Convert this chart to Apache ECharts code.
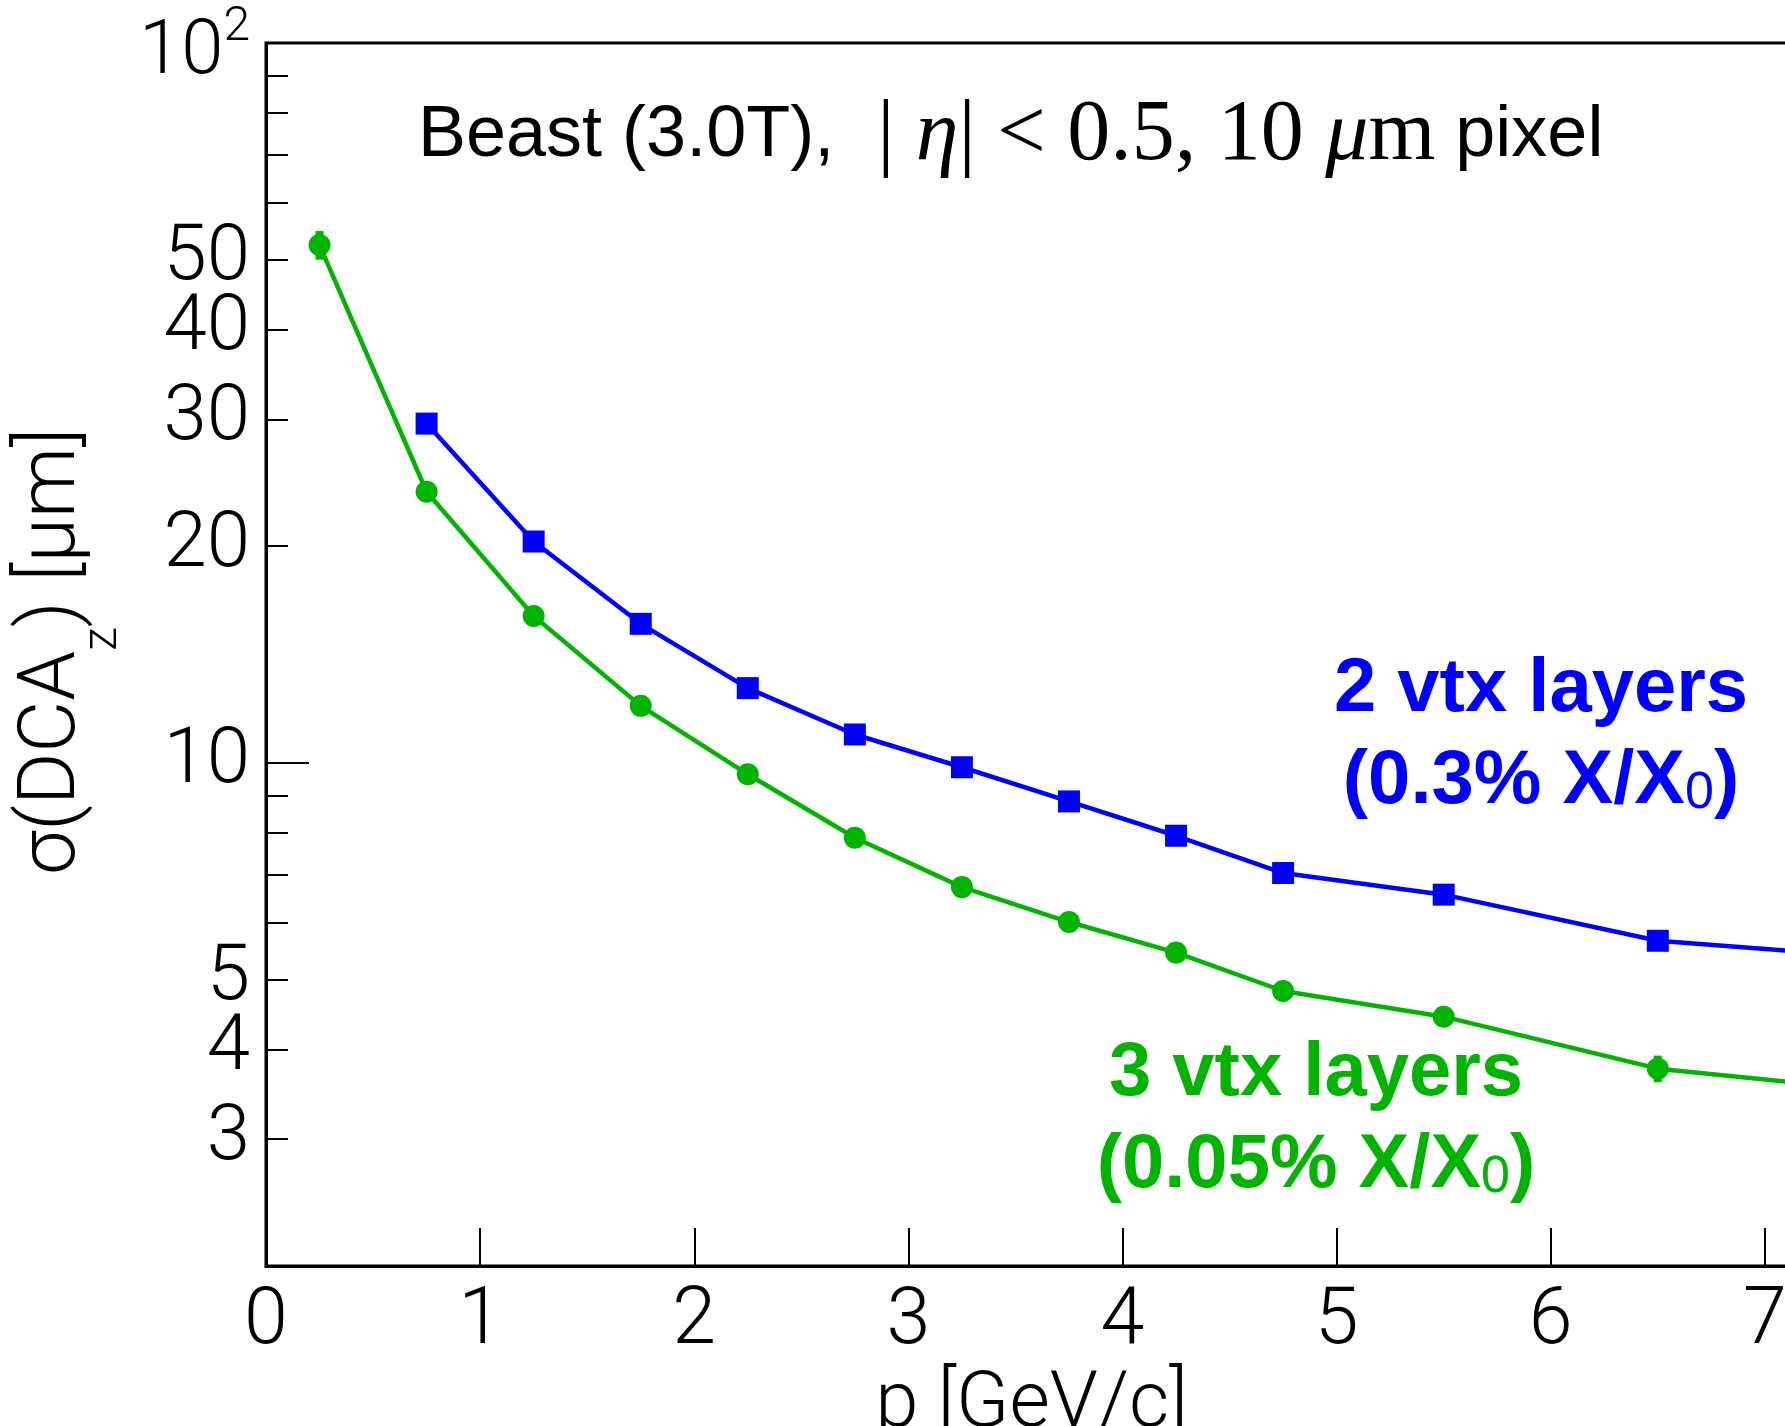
<!DOCTYPE html>
<html>
<head>
<meta charset="utf-8">
<script src="https://cdn.jsdelivr.net/npm/echarts@6/dist/echarts.min.js"></script>
<style>
  html, body { margin: 0; padding: 0; background: #ffffff; }
  #chart { width: 1785px; height: 1426px; }
</style>
</head>
<body>
<div id="chart"></div>
<script>
// Momentum bin centres [GeV/c]
const momentum = [0.25, 0.75, 1.25, 1.75, 2.25, 2.75, 3.25, 3.75, 4.25, 4.75, 5.5, 6.5, 7.5];

// sigma(DCA_z) [um], 3 vertex layers (0.05% X/X0) - all momentum bins
const sigmaThreeLayers = [52.4, 23.8, 16.0, 12.0, 9.64, 7.87, 6.72, 6.01, 5.45, 4.82, 4.44, 3.76, 3.51];
const errThreeLayers   = [2.4, 0, 0, 0, 0, 0, 0, 0, 0, 0, 0, 0.16, 0];

// sigma(DCA_z) [um], 2 vertex layers (0.3% X/X0) - starts at the second bin
const sigmaTwoLayers = [null, 29.6, 20.3, 15.6, 12.7, 10.95, 9.86, 8.84, 7.92, 7.03, 6.56, 5.66, 5.37];

// Axis tick / label values
const yLabelValues = [3, 4, 5, 10, 20, 30, 40, 50, 100];
const yMinorTicks  = [3, 4, 5, 6, 7, 8, 9, 20, 30, 40, 50, 60, 70, 80, 90];
const yMajorTicks  = [10];
const xMin = 0, xMax = 7.15, yMin = 2, yMax = 100;

const GREEN = '#00b400';
const BLUE = '#0000ff';
const LIGHT = 'Roboto';

const greenPts = momentum.map((p, i) => [p, sigmaThreeLayers[i]]);
const bluePts = momentum.map((p, i) => [p, sigmaTwoLayers[i]]).filter(d => d[1] != null);
const errPts = momentum
  .map((p, i) => [p, sigmaThreeLayers[i] - errThreeLayers[i], sigmaThreeLayers[i] + errThreeLayers[i], errThreeLayers[i]])
  .filter(d => d[3] > 0);

const chart = echarts.init(document.getElementById('chart'), null, { renderer: 'canvas' });

const logAxisBase = {
  type: 'log', logBase: 10, min: yMin, max: yMax,
  gridIndex: 0, position: 'left',
  splitLine: { show: false }, minorTick: { show: false }
};

chart.setOption({
  animation: false,
  backgroundColor: '#ffffff',
  grid: {
    left: 266, top: 43, width: 1531, height: 1223,
    outerBoundsMode: 'none', containLabel: false,
    show: true, borderColor: '#000', borderWidth: 3, backgroundColor: 'transparent'
  },
  xAxis: {
    type: 'value', min: xMin, max: xMax, interval: 1,
    axisLine: { lineStyle: { color: '#000', width: 3 } },
    axisTick: { inside: true, length: 38, lineStyle: { color: '#000', width: 2 } },
    axisLabel: {
      color: '#000', fontFamily: LIGHT, fontWeight: 300, fontSize: 79, margin: 18,
      formatter: v => (Math.abs(v - Math.round(v)) < 1e-9 ? String(Math.round(v)) : '')
    },
    splitLine: { show: false },
    name: 'p [GeV/c]', nameLocation: 'middle', nameGap: 90,
    nameTextStyle: { color: '#000', fontFamily: LIGHT, fontWeight: 300, fontSize: 78 }
  },
  yAxis: [
    Object.assign({}, logAxisBase, {
      axisLine: { show: true, lineStyle: { color: '#000', width: 3 } },
      axisTick: { show: true, inside: true, length: 22, customValues: yMinorTicks, lineStyle: { color: '#000', width: 2 } },
      axisLabel: {
        show: true, customValues: yLabelValues, color: '#000',
        fontFamily: LIGHT, fontWeight: 300, fontSize: 78, margin: 16,
        formatter: v => (Math.abs(v - 100) < 1e-6 ? '{m|10}{sup|2}' : String(Math.round(v))),
        rich: {
          m: { fontFamily: LIGHT, fontWeight: 300, fontSize: 76, lineHeight: 78, padding: [22, 0, 0, 0], color: '#000' },
          sup: { fontFamily: LIGHT, fontWeight: 300, fontSize: 48, lineHeight: 48, verticalAlign: 'top', padding: [0, 0, 0, 0], color: '#000' }
        }
      },
      name: '{a|σ(DCA}{z|z}{a|) [μm]}',
      nameLocation: 'middle', nameRotate: 90, nameGap: 147,
      nameTextStyle: {
        color: '#000', padding: [0, 0, 0, 6],
        rich: {
          a: { fontFamily: LIGHT, fontWeight: 300, fontSize: 80, lineHeight: 80, color: '#000' },
          z: { fontFamily: LIGHT, fontWeight: 300, fontSize: 48, lineHeight: 48, verticalAlign: 'top', padding: [66, 0, 0, 0], color: '#000' }
        }
      }
    }),
    Object.assign({}, logAxisBase, {
      axisLine: { show: false },
      axisTick: { show: true, inside: true, length: 43, customValues: yMajorTicks, lineStyle: { color: '#000', width: 2 } },
      axisLabel: { show: false }
    })
  ],
  series: [
    {
      name: '3 vtx layers', type: 'line', data: greenPts, yAxisIndex: 0,
      symbol: 'circle', symbolSize: 22, showSymbol: true,
      lineStyle: { color: GREEN, width: 4.5 }, itemStyle: { color: GREEN },
      z: 4
    },
    {
      name: '3 vtx layers error', type: 'custom', data: errPts, yAxisIndex: 0,
      encode: { x: 0, y: [1, 2] },
      renderItem: (params, api) => {
        const x = api.value(0);
        const p1 = api.coord([x, api.value(1)]);
        const p2 = api.coord([x, api.value(2)]);
        return {
          type: 'line',
          shape: { x1: p1[0], y1: p1[1], x2: p2[0], y2: p2[1] },
          style: { stroke: GREEN, lineWidth: 8 }
        };
      },
      z: 5
    },
    {
      name: '2 vtx layers', type: 'line', data: bluePts, yAxisIndex: 0,
      symbol: 'rect', symbolSize: 22, showSymbol: true,
      lineStyle: { color: BLUE, width: 4.5 }, itemStyle: { color: BLUE },
      z: 4
    }
  ],
  graphic: [
    {
      type: 'text', x: 418, y: 136,
      style: {
        text: '{h|Beast (3.0T),}{t|  | }{ti|η}{t|| < 0.5, 10 }{ti|μ}{t|m}{h| pixel}',
        verticalAlign: 'middle', align: 'left',
        rich: {
          h: { fontFamily: 'Liberation Sans', fontSize: 72, fill: '#000' },
          t: { fontFamily: 'Liberation Serif', fontSize: 86, fill: '#000' },
          ti: { fontFamily: 'Liberation Serif', fontStyle: 'italic', fontSize: 86, fill: '#000' }
        }
      }
    },
    {
      type: 'text', x: 1541, y: 690,
      style: { text: '2 vtx layers', align: 'center', verticalAlign: 'middle',
        font: 'bold 76px "Liberation Sans"', fill: BLUE }
    },
    {
      type: 'text', x: 1541, y: 782,
      style: {
        text: '{b|(0.3% X/X}{s|0}{b|)}', align: 'center', verticalAlign: 'middle',
        rich: {
          b: { fontFamily: 'Liberation Sans', fontWeight: 'bold', fontSize: 76, lineHeight: 76, fill: BLUE },
          s: { fontFamily: 'Liberation Sans', fontSize: 52, lineHeight: 46, verticalAlign: 'bottom', fill: BLUE }
        }
      }
    },
    {
      type: 'text', x: 1316, y: 1074,
      style: { text: '3 vtx layers', align: 'center', verticalAlign: 'middle',
        font: 'bold 76px "Liberation Sans"', fill: GREEN }
    },
    {
      type: 'text', x: 1316, y: 1166,
      style: {
        text: '{b|(0.05% X/X}{s|0}{b|)}', align: 'center', verticalAlign: 'middle',
        rich: {
          b: { fontFamily: 'Liberation Sans', fontWeight: 'bold', fontSize: 76, lineHeight: 76, fill: GREEN },
          s: { fontFamily: 'Liberation Sans', fontSize: 52, lineHeight: 46, verticalAlign: 'bottom', fill: GREEN }
        }
      }
    }
  ]
});
</script>
</body>
</html>
